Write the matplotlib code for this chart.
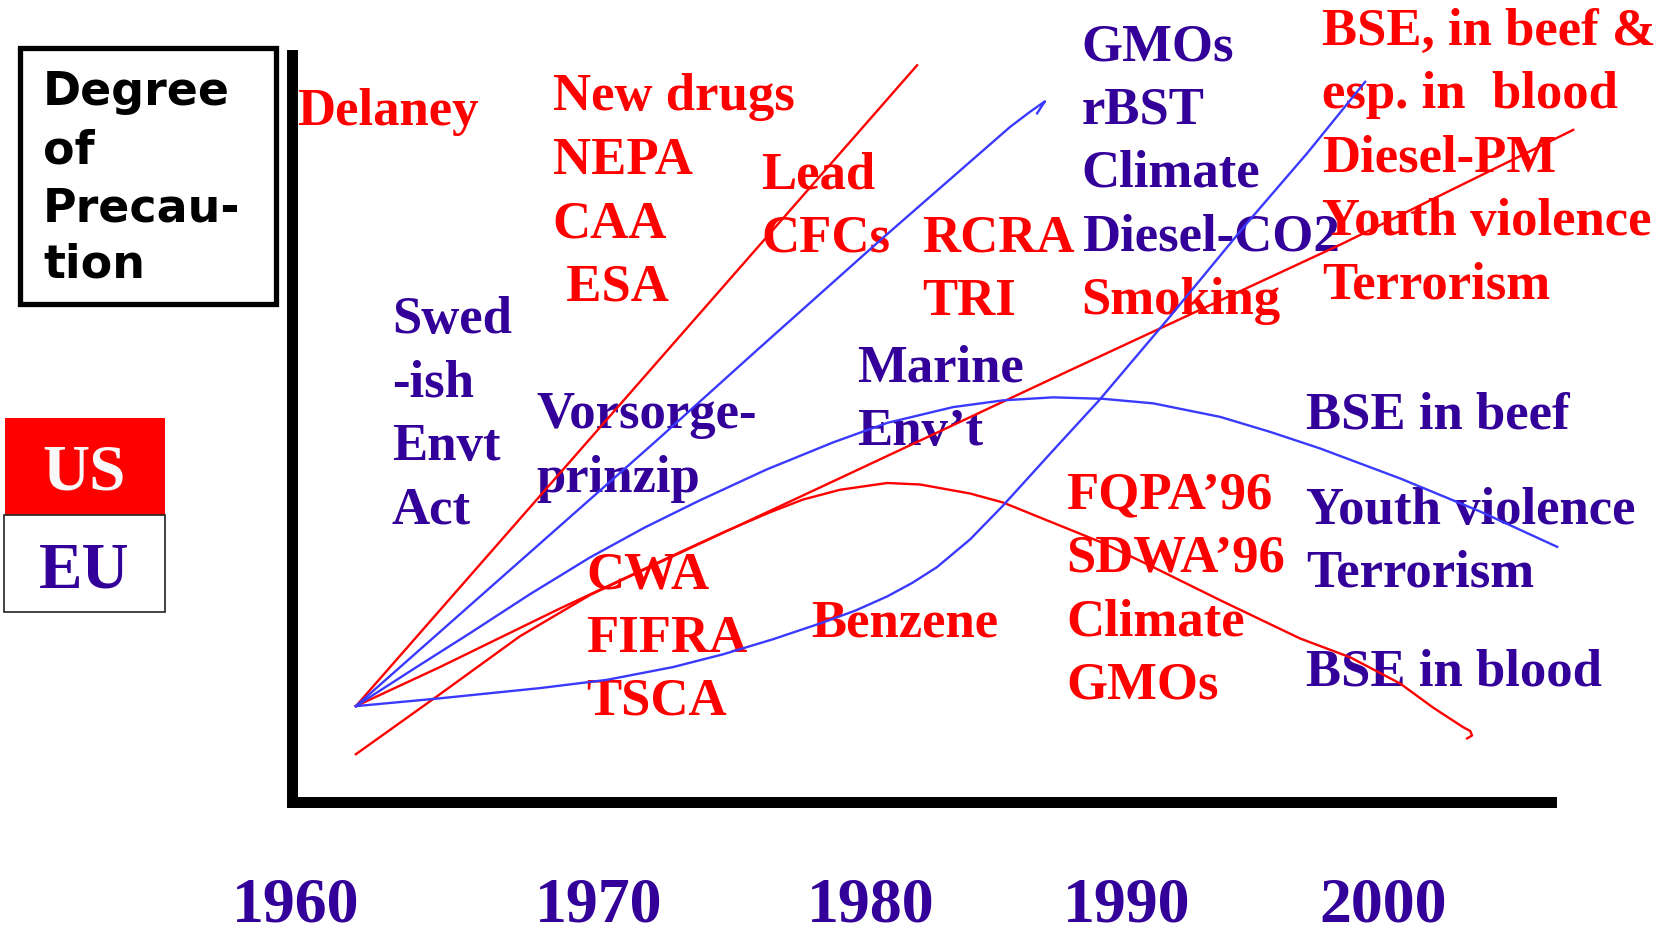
import numpy as np
import matplotlib.pyplot as plt
from matplotlib.patches import Rectangle

RED = '#ff0000'
BLUE = '#3a3aff'
PURPLE = '#330099'
SERIF = 'Liberation Serif'

# x = year, y = degree of precaution (0..10)
red_steep_yr = [1962.25, 1982.88]
red_steep_deg = [1.28, 9.81]

blue_steep_yr = [1962.25, 1973.32, 1977.00, 1981.52, 1986.30, 1987.03, 1987.58, 1987.47, 1987.29]
blue_steep_deg = [1.28, 4.82, 6.02, 7.48, 8.99, 9.19, 9.33, 9.27, 9.17]

red_rise_yr = [1962.25, 1965.23, 1968.28, 1970.86, 1979.31, 1988.50, 1998.54, 2007.00]
red_rise_deg = [0.64, 1.41, 2.21, 2.76, 4.19, 5.75, 7.44, 8.95]

red_hump_yr = [1962.25, 1965.34, 1969.64, 1974.17, 1975.80, 1977.47, 1978.69, 1980.05, 1981.78,
               1982.99, 1984.83, 1986.04, 1987.88, 1989.72, 1991.56, 1994.02, 1996.96, 1998.80,
               2000.64, 2001.85, 2002.95, 2003.21, 2003.28, 2003.10]
red_hump_deg = [1.28, 1.80, 2.56, 3.33, 3.60, 3.86, 4.03, 4.16, 4.25,
                4.23, 4.11, 3.99, 3.72, 3.45, 3.13, 2.69, 2.18, 1.93,
                1.58, 1.26, 1.00, 0.95, 0.89, 0.85]

blue_hump_yr = [1962.25, 1964.35, 1966.44, 1968.65, 1970.86, 1972.88, 1974.90, 1977.35, 1979.79,
                1981.78, 1984.20, 1986.04, 1987.88, 1989.72, 1991.56, 1994.02, 1995.86, 1997.69,
                2000.64, 2003.58, 2006.41]
blue_hump_deg = [1.28, 1.77, 2.25, 2.77, 3.26, 3.66, 4.02, 4.43, 4.79,
                 5.05, 5.26, 5.35, 5.39, 5.37, 5.31, 5.13, 4.93, 4.71,
                 4.31, 3.87, 3.40]

blue_s_yr = [1962.25, 1965.23, 1969.02, 1971.48, 1973.91, 1975.75, 1977.58, 1979.31, 1980.60,
             1981.78, 1982.70, 1983.61, 1984.83, 1986.04, 1987.77, 1989.57, 1992.07, 1995.01,
             1997.22, 1999.35]
blue_s_deg = [1.28, 1.38, 1.52, 1.63, 1.80, 1.97, 2.17, 2.38, 2.55,
              2.74, 2.92, 3.13, 3.50, 3.95, 4.64, 5.35, 6.42, 7.71,
              8.64, 9.59]

year_labels = ['1960', '1970', '1980', '1990', '2000']
year_ticks = [1960.05, 1971.19, 1981.19, 1990.60, 2000.01]

# label groups: (lines, colours)
delaney = (['Delaney'], [RED])
us_60s = (['New drugs', 'NEPA', 'CAA', ' ESA'], [RED] * 4)
lead = (['Lead', 'CFCs'], [RED] * 2)
rcra = (['RCRA', 'TRI'], [RED] * 2)
mid_col = (['GMOs', 'rBST', 'Climate', 'Diesel-CO2', 'Smoking'], [PURPLE] * 4 + [RED])
us_now = (['BSE, in beef &', 'esp. in  blood', 'Diesel-PM', 'Youth violence', 'Terrorism'], [RED] * 5)
swed = (['Swed', '-ish', 'Envt', 'Act'], [PURPLE] * 4)
vors = (['Vorsorge-', 'prinzip'], [PURPLE] * 2)
marine = (['Marine', 'Env\u2019t'], [PURPLE] * 2)
cwa = (['CWA', 'FIFRA', 'TSCA'], [RED] * 3)
benz = (['Benzene'], [RED])
fqpa = (['FQPA\u201996', 'SDWA\u201996', 'Climate', 'GMOs'], [RED] * 4)
eu_beef = (['BSE in beef'], [PURPLE])
eu_youth = (['Youth violence', 'Terrorism'], [PURPLE] * 2)
eu_blood = (['BSE in blood'], [PURPLE])

W, H = 1666, 934
fig = plt.figure(figsize=(W / 100, H / 100), dpi=100)
ax = fig.add_axes([0.17557, 0.14101, 0.7557, 0.79957])
ax.set_xlim(1959.92, 2006.20)
ax.set_ylim(0, 9.94)
for s in ['top', 'right']:
    ax.spines[s].set_visible(False)
for s in ['left', 'bottom']:
    ax.spines[s].set_linewidth(7.9)
    ax.spines[s].set_capstyle('projecting')
ax.set_yticks([])
ax.set_xticks(year_ticks)
ax.set_xticklabels(year_labels, fontfamily=SERIF, fontweight='bold', fontsize=46, color=PURPLE)
ax.tick_params(axis='x', length=0, pad=54)

lw = 1.7
for xs, ys, c in [(red_steep_yr, red_steep_deg, RED), (blue_steep_yr, blue_steep_deg, BLUE),
                  (red_rise_yr, red_rise_deg, RED), (red_hump_yr, red_hump_deg, RED),
                  (blue_hump_yr, blue_hump_deg, BLUE), (blue_s_yr, blue_s_deg, BLUE)]:
    ax.plot(xs, ys, color=c, lw=lw, clip_on=False, zorder=3, solid_joinstyle='round')

step = 0.844


def block(x, y, group, size=38):
    lines, cols = group
    for i, (t, c) in enumerate(zip(lines, cols)):
        ax.text(x, y - i * step, t, color=c, fontsize=size, fontfamily=SERIF,
                fontweight='bold', ha='left', va='baseline', zorder=2, clip_on=False)


block(1960.08, 9.01, delaney)
block(1969.49, 9.21, us_60s)
block(1977.14, 8.17, lead)
block(1983.05, 7.33, rcra)
block(1988.93, 9.88, mid_col)
block(1997.76, 10.08, us_now)
block(1963.57, 6.24, swed)
block(1968.90, 4.98, vors)
block(1980.66, 5.60, marine)
block(1970.71, 2.85, cwa)
block(1978.97, 2.21, benz)
block(1988.36, 3.91, fqpa)
block(1997.18, 4.98, eu_beef)
block(1997.18, 3.71, eu_youth)
block(1997.18, 1.56, eu_blood)


def fx(x):
    return x / W


def fy(y):
    return 1 - y / H


# "Degree of Precaution" box
fig.add_artist(Rectangle((fx(19.7), fy(304)), (276.3 - 19.7) / W, (304 - 48.3) / H,
                         transform=fig.transFigure, fill=False, ec='black', lw=3.8))
for t, yb in zip(['Degree', 'of', 'Precau-', 'tion'], [105, 163, 222, 278]):
    fig.text(fx(43), fy(yb), t, fontsize=33, fontfamily='DejaVu Sans', fontweight='bold',
             va='baseline', ha='left', color='black')

# US / EU key
fig.add_artist(Rectangle((fx(5), fy(515)), 160 / W, 97.5 / H, transform=fig.transFigure,
                         fc=RED, ec='none'))
fig.add_artist(Rectangle((fx(4), fy(612)), 161 / W, 97 / H, transform=fig.transFigure,
                         fc='white', ec='#222222', lw=1.2))
fig.text(fx(84), fy(490), 'US', fontsize=47, fontfamily=SERIF, fontweight='bold',
         color='#f8f8f8', ha='center', va='baseline')
fig.text(fx(84), fy(587), 'EU', fontsize=47, fontfamily=SERIF, fontweight='bold',
         color=PURPLE, ha='center', va='baseline')

fig.savefig('out.png', dpi=100)
